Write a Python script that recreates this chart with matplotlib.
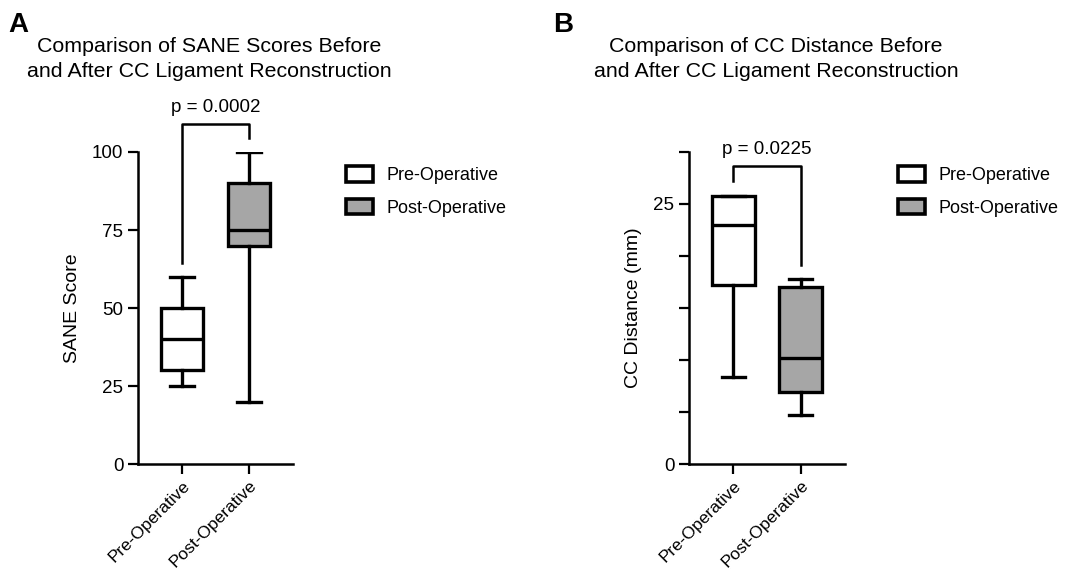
import matplotlib
matplotlib.use("Agg")
import matplotlib.pyplot as plt
from matplotlib.patches import Patch

plt.rcParams['font.family'] = ['Liberation Sans', 'DejaVu Sans']

groups = ["Pre-Operative", "Post-Operative"]
colors = ["white", "#a6a6a6"]

# panel A - SANE score box stats (whislo, q1, med, q3, whishi)
sane_pre = [25, 30, 40, 50, 60]
sane_post = [20, 70, 75, 90, 100]
sane_p = "p = 0.0002"

# panel B - CC distance (mm)
cc_pre = [8.4, 17.2, 23.0, 25.8, 25.8]
cc_post = [4.7, 6.9, 10.2, 17.0, 17.8]
cc_p = "p = 0.0225"


def stats(v, label):
    return dict(whislo=v[0], q1=v[1], med=v[2], q3=v[3], whishi=v[4], label=label, fliers=[])


def draw_panel(ax, pre, post, ylim, yticks, minor, ylabel, ptext, bracket):
    lw = 2.4
    bp = ax.bxp([stats(pre, groups[0]), stats(post, groups[1])], positions=[1, 2],
                widths=0.63, patch_artist=True, showfliers=False,
                boxprops=dict(linewidth=lw, edgecolor='black'),
                medianprops=dict(color='black', linewidth=lw),
                whiskerprops=dict(color='black', linewidth=lw),
                capprops=dict(color='black', linewidth=lw), capwidths=0.35)
    for patch, c in zip(bp['boxes'], colors):
        patch.set_facecolor(c)
    ax.set_xlim(0.34, 2.66)
    ax.set_ylim(*ylim)
    ax.set_yticks(yticks)
    ax.set_yticks(minor, minor=True)
    ax.set_xticks([1, 2])
    ax.set_xticklabels(groups, rotation=45, ha='right', rotation_mode='anchor', fontsize=12.5)
    ax.tick_params(axis='both', width=1.6, length=7, labelsize=13.5, direction='out')
    ax.tick_params(axis='x', labelsize=12.5, pad=3)
    ax.tick_params(axis='y', which='minor', width=1.6, length=7)
    for s in ['top', 'right']:
        ax.spines[s].set_visible(False)
    for s in ['left', 'bottom']:
        ax.spines[s].set_linewidth(1.8)
    ax.set_ylabel(ylabel, fontsize=14, labelpad=8)
    # significance bracket
    top, left_end, right_end = bracket
    ax.plot([1, 1, 2, 2], [left_end, top, top, right_end], color='black',
            linewidth=1.8, clip_on=False)
    ax.text(1.5, top + (ylim[1] - ylim[0]) * 0.025, ptext, ha='center', va='bottom',
            fontsize=13.5, clip_on=False)


fig = plt.figure(figsize=(10.67, 5.74), dpi=100)
axA = fig.add_axes([0.1293, 0.1916, 0.1453, 0.5436])
axB = fig.add_axes([0.6457, 0.1916, 0.1462, 0.5436])

draw_panel(axA, sane_pre, sane_post, (0, 100), [0, 25, 50, 75, 100], [],
           "SANE Score", sane_p, (109, 64.5, 104.5))
draw_panel(axB, cc_pre, cc_post, (0, 30), [0, 25], [5, 10, 15, 20, 30],
           "CC Distance (mm)", cc_p, (28.7, 27.2, 19.1))

fig.text(209 / 1067, 1 - 59 / 574,
         "Comparison of SANE Scores Before\nand After CC Ligament Reconstruction",
         ha='center', va='center', fontsize=15.4, linespacing=1.45)
fig.text(776 / 1067, 1 - 59 / 574,
         "Comparison of CC Distance Before\nand After CC Ligament Reconstruction",
         ha='center', va='center', fontsize=15.4, linespacing=1.45)
fig.text(8 / 1067, 1 - 25 / 574, "A", fontsize=20, fontweight='bold', va='center')
fig.text(553 / 1067, 1 - 25 / 574, "B", fontsize=20, fontweight='bold', va='center')

handles = [Patch(facecolor=c, edgecolor='black', linewidth=2.6, label=g)
           for c, g in zip(colors, groups)]
for x0 in [330 / 1067, 882 / 1067]:
    fig.legend(handles=handles, loc='upper left', bbox_to_anchor=(x0, 1 - 150 / 574),
               frameon=False, fontsize=13, handlelength=1.5, handleheight=0.95,
               labelspacing=0.8, handletextpad=0.75)

fig.savefig("out.png", dpi=100)
